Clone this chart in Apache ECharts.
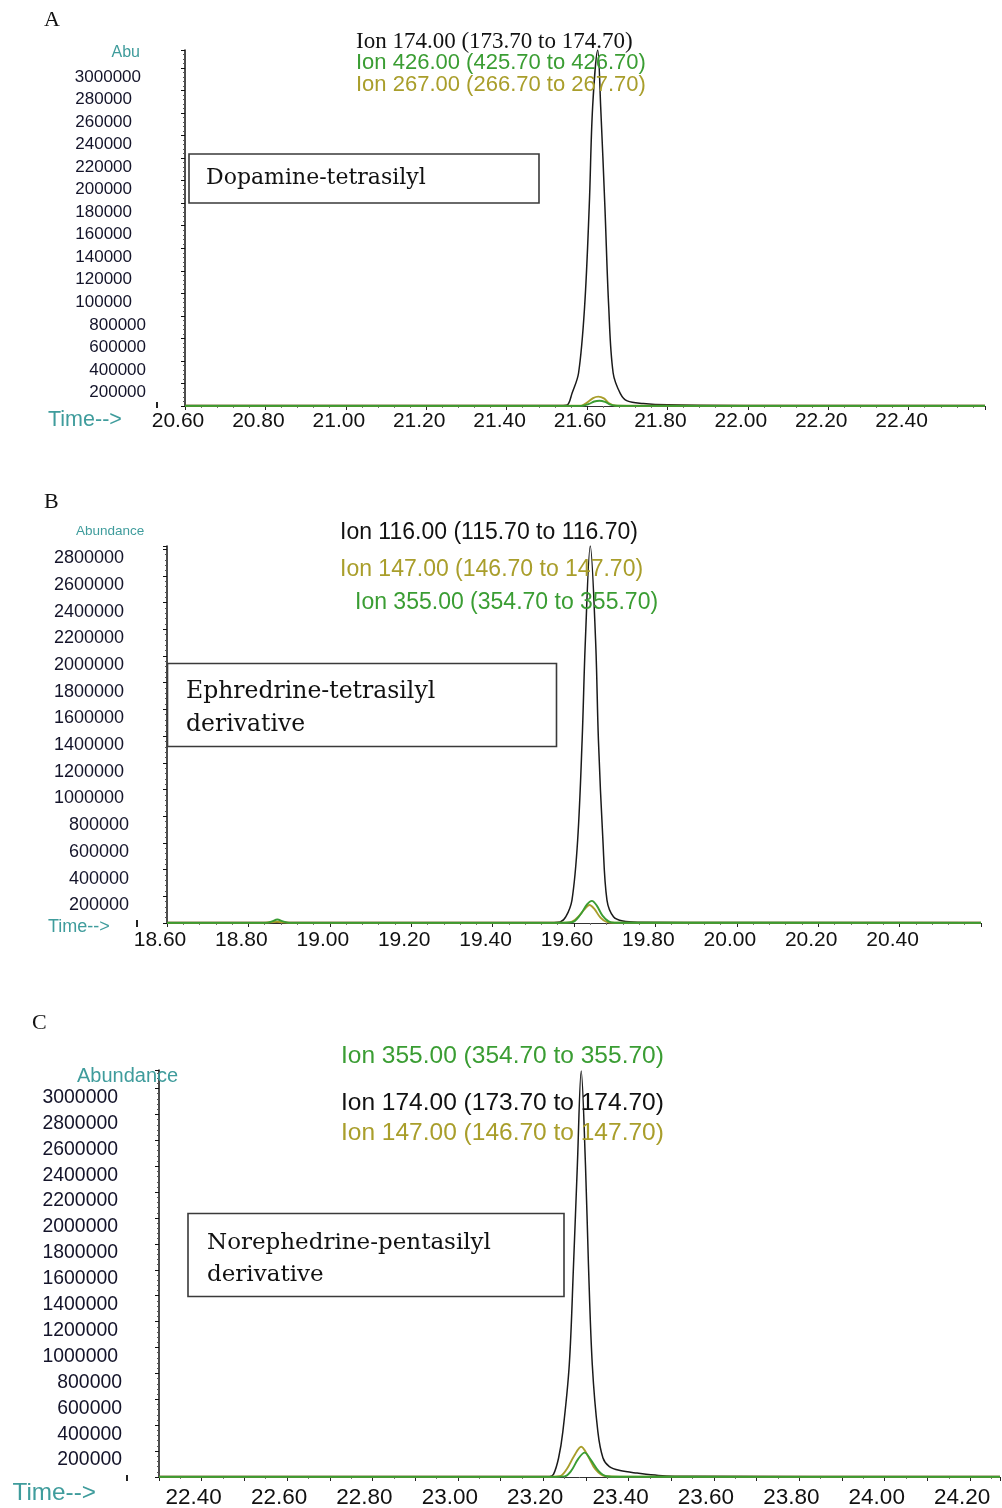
<!DOCTYPE html>
<html><head><meta charset="utf-8">
<script src="https://cdn.jsdelivr.net/npm/echarts@6.0.0/dist/echarts.min.js"></script>
<style>html,body{margin:0;padding:0;background:#fff}#c{width:1002px;height:1508px}</style>
</head><body><div id="c"></div>
<script>
// ---------- DATA (time in min, abundance) ----------
// Panel A: Dopamine-tetrasilyl
const aIon174 = [[20.60,4000],[21.00,4000],[21.40,4000],[21.54,5000],[21.551,9000],[21.563,115000],[21.579,293000],[21.594,881000],[21.6055,1769000],[21.614,2657000],[21.6266,3160000],[21.634,2657000],[21.6445,1769000],[21.654,881000],[21.665,293000],[21.683,110000],[21.70,45000],[21.74,22000],[21.80,10000],[22.00,5000],[22.59,4000]];
const aIon426 = [[20.60,1000],[21.50,1000],[21.588,2000],[21.605,18000],[21.618,40000],[21.631,47000],[21.645,36000],[21.658,12000],[21.672,2000],[21.70,1000],[22.59,1000]];
const aIon267 = [[20.60,2000],[21.50,2000],[21.585,3000],[21.600,30000],[21.615,70000],[21.628,83000],[21.642,68000],[21.655,25000],[21.670,5000],[21.70,2000],[22.59,2000]];
// Panel B: Ephredrine-tetrasilyl derivative
const bIon116 = [[18.60,3000],[19.00,3000],[19.40,3000],[19.55,4000],[19.566,8000],[19.580,47000],[19.595,172000],[19.609,622000],[19.620,1371000],[19.628,2120000],[19.640,2824000],[19.653,2120000],[19.660,1371000],[19.671,622000],[19.681,172000],[19.697,47000],[19.72,15000],[19.76,6000],[20.00,3000],[20.60,3000]];
const bIon147 = [[18.60,2000],[18.84,2000],[18.87,9000],[18.90,2000],[19.55,2000],[19.59,5000],[19.61,45000],[19.625,100000],[19.638,135000],[19.65,105000],[19.665,40000],[19.68,8000],[19.70,2000],[20.60,2000]];
const bIon355 = [[18.60,1000],[18.845,1000],[18.858,12000],[18.871,26000],[18.885,12000],[18.90,1000],[19.55,1000],[19.595,6000],[19.615,60000],[19.632,140000],[19.644,166000],[19.656,130000],[19.67,55000],[19.685,12000],[19.70,2000],[20.60,1000]];
// Panel C: Norephedrine-pentasilyl derivative
const cIon355 = [[22.30,1000],[23.20,1000],[23.25,5000],[23.265,45000],[23.282,140000],[23.297,188000],[23.312,130000],[23.33,45000],[23.348,6000],[23.38,2000],[24.27,1000]];
const cIon174 = [[22.30,3000],[22.80,3000],[23.20,3000],[23.215,4000],[23.224,20000],[23.236,147000],[23.246,350000],[23.261,865000],[23.271,1637000],[23.280,2409000],[23.289,3135000],[23.299,2409000],[23.306,1637000],[23.315,865000],[23.328,350000],[23.340,147000],[23.355,80000],[23.38,50000],[23.42,30000],[23.47,12000],[23.55,5000],[24.27,3000]];
const cIon147 = [[22.30,2000],[23.20,2000],[23.238,6000],[23.255,60000],[23.272,160000],[23.289,234000],[23.305,160000],[23.322,60000],[23.344,8000],[23.38,3000],[24.27,2000]];

// Tick labels (as printed)
const aYLabels = ['', '200000','400000','600000','800000','100000','120000','140000','160000','180000','200000','220000','240000','260000','280000','3000000'];
const bYLabels = ['', '200000','400000','600000','800000','1000000','1200000','1400000','1600000','1800000','2000000','2200000','2400000','2600000','2800000'];
const cYLabels = ['', '200000','400000','600000','800000','1000000','1200000','1400000','1600000','1800000','2000000','2200000','2400000','2600000','2800000','3000000'];

const ionTexts = {
  a: ['Ion 174.00 (173.70 to 174.70)', 'Ion 426.00 (425.70 to 426.70)', 'Ion 267.00 (266.70 to 267.70)'],
  b: ['Ion 116.00 (115.70 to 116.70)', 'Ion 147.00 (146.70 to 147.70)', 'Ion 355.00 (354.70 to 355.70)'],
  c: ['Ion 355.00 (354.70 to 355.70)', 'Ion 174.00 (173.70 to 174.70)', 'Ion 147.00 (146.70 to 147.70)']
};

// ---------- STYLE ----------
const SANS = "'Liberation Sans', Arial, sans-serif";
const SERIF = "'Liberation Serif', 'Times New Roman', serif";
const DJS = "'DejaVu Serif', serif";
const BLACK = '#1a1a1a', GREEN = '#3a9d33', OLIVE = '#a99e2b', TEAL = '#3f9c9c', LBL = '#14142a';

const chart = echarts.init(document.getElementById('c'), null, {renderer: 'canvas'});

function yAxisCfg(idx, max, labels, fs, margin, widePad, lastPad) {
  return {
    type: 'value', gridIndex: idx, min: 0, max: max, interval: 200000,
    axisLine: {show: true, lineStyle: {color: '#111', width: 1.5}},
    axisTick: {show: true, length: 4, lineStyle: {color: '#111', width: 1}},
    minorTick: {show: true, splitNumber: 5, length: 2, lineStyle: {color: '#555', width: 1}},
    splitLine: {show: false},
    axisLabel: {
      showMaxLabel: false, margin: margin, padding: [18, 0, 0, 0],
      formatter: function (v) {
        const i = Math.round(v / 200000);
        if (Math.abs(v - i * 200000) > 1) return '';
        const s = labels[i];
        if (!s) return '';
        if (i === labels.length - 1 && lastPad !== undefined) return '{t|' + s + '}';
        return i >= 5 ? '{w|' + s + '}' : '{n|' + s + '}';
      },
      rich: {
        n: {fontSize: fs, fontFamily: SANS, color: LBL},
        w: {fontSize: fs, fontFamily: SANS, color: LBL, padding: [0, widePad, 0, 0]},
        t: {fontSize: fs, fontFamily: SANS, color: LBL, padding: [0, lastPad || 0, 0, 0]}
      }
    }
  };
}

function xAxisCfg(idx, min, max, interval, fs, margin, padR, evenOnly) {
  return {
    type: 'value', gridIndex: idx, min: min, max: max, interval: interval,
    axisLine: {show: true, onZero: false, lineStyle: {color: '#333', width: 1}},
    axisTick: {show: true, length: 4, lineStyle: {color: '#222', width: 1}},
    minorTick: {show: true, splitNumber: evenOnly ? 2 : 5, length: 2, lineStyle: {color: '#777', width: 1}},
    splitLine: {show: false},
    axisLabel: {
      showMaxLabel: false, margin: margin, padding: [0, padR, 0, 0],
      fontSize: fs, fontFamily: SANS, color: '#111',
      formatter: function (v) {
        if (evenOnly) {
          const k = Math.round(v * 10);
          if (k % 2 !== 0) return '';
        }
        return v.toFixed(2);
      }
    }
  };
}

function line(idx, data, color, width) {
  return {
    type: 'line', xAxisIndex: idx, yAxisIndex: idx, data: data,
    showSymbol: false, symbol: 'none', smooth: 0.35,
    lineStyle: {color: color, width: width}, silent: true, animation: false
  };
}

function txt(x, y, text, fill, size, family, align) {
  return {type: 'text', silent: true, z: 100, style: {x: x, y: y, text: text, fill: fill, fontSize: size, fontFamily: family, textAlign: align || 'left', textVerticalAlign: 'middle'}};
}
function box(x, y, w, h) {
  return {type: 'rect', silent: true, z: 90, shape: {x: x, y: y, width: w, height: h}, style: {fill: 'rgba(255,255,255,0)', stroke: '#3a3a3a', lineWidth: 1.6}};
}
function mark(x, y, h) {
  return {type: 'rect', silent: true, z: 90, shape: {x: x, y: y, width: 2, height: h}, style: {fill: '#222'}};
}

const option = {
  animation: false,
  backgroundColor: '#fff',
  grid: [
    {left: 185, top: 50, width: 800, height: 356, outerBoundsMode: 'none', containLabel: false},
    {left: 167, top: 546, width: 814, height: 377, outerBoundsMode: 'none', containLabel: false},
    {left: 159, top: 1070, width: 841, height: 407, outerBoundsMode: 'none', containLabel: false}
  ],
  xAxis: [
    xAxisCfg(0, 20.60, 22.59, 0.2, 21, 5, 14, false),
    xAxisCfg(1, 18.60, 20.60, 0.2, 21, 7, 14, false),
    xAxisCfg(2, 22.30, 24.27, 0.1, 22.5, 9, 16, true)
  ],
  yAxis: [
    yAxisCfg(0, 3160000, aYLabels, 17, 39, 14, 5),
    yAxisCfg(1, 2824000, bYLabels, 18, 38, 5),
    yAxisCfg(2, 3143000, cYLabels, 19.4, 37, 4)
  ],
  series: [
    line(0, aIon174, BLACK, 1.5), line(0, aIon267, OLIVE, 1.9), line(0, aIon426, GREEN, 1.9),
    line(1, bIon116, BLACK, 1.5), line(1, bIon147, OLIVE, 1.9), line(1, bIon355, GREEN, 1.9),
    line(2, cIon174, BLACK, 1.5), line(2, cIon147, OLIVE, 1.9), line(2, cIon355, GREEN, 1.9)
  ],
  graphic: [
    // Panel A
    txt(44, 20, 'A', '#111', 22, SERIF),
    txt(140, 53, 'Abu', TEAL, 16, SANS, 'right'),
    txt(48, 420, 'Time-->', TEAL, 21.5, SANS),
    mark(156, 402, 6),
    txt(356, 41.7, ionTexts.a[0], '#111', 23, SERIF),
    txt(356, 62.7, ionTexts.a[1], GREEN, 22, SANS),
    txt(356, 85, ionTexts.a[2], OLIVE, 22, SANS),
    box(189, 154, 350, 49),
    txt(206, 178.5, 'Dopamine-tetrasilyl', '#111', 22, DJS),
    // Panel B
    txt(44, 502, 'B', '#111', 22, SERIF),
    txt(76, 531.7, 'Abundance', TEAL, 13.5, SANS),
    txt(48, 926.7, 'Time-->', TEAL, 18, SANS),
    mark(136, 920, 7),
    txt(340, 532.7, ionTexts.b[0], '#111', 23, SANS),
    txt(340, 570, ionTexts.b[1], OLIVE, 23, SANS),
    txt(355, 602.7, ionTexts.b[2], GREEN, 23, SANS),
    box(167.5, 663.5, 389, 83),
    txt(186, 691.7, 'Ephredrine-tetrasilyl', '#111', 23.5, DJS),
    txt(186, 725, 'derivative', '#111', 23.5, DJS),
    // Panel C
    txt(32, 1023, 'C', '#111', 22, SERIF),
    txt(77, 1076, 'Abundance', TEAL, 20, SANS),
    txt(12.5, 1493.3, 'Time-->', TEAL, 24.3, SANS),
    mark(126, 1475, 6),
    txt(341, 1056.7, ionTexts.c[0], GREEN, 24.5, SANS),
    txt(341, 1103.3, ionTexts.c[1], '#111', 24.5, SANS),
    txt(341, 1133.3, ionTexts.c[2], OLIVE, 24.5, SANS),
    box(188, 1213.5, 376, 83),
    txt(207, 1243.3, 'Norephedrine-pentasilyl', '#111', 23, DJS),
    txt(207, 1275, 'derivative', '#111', 23, DJS)
  ]
};
chart.setOption(option);
</script></body></html>
